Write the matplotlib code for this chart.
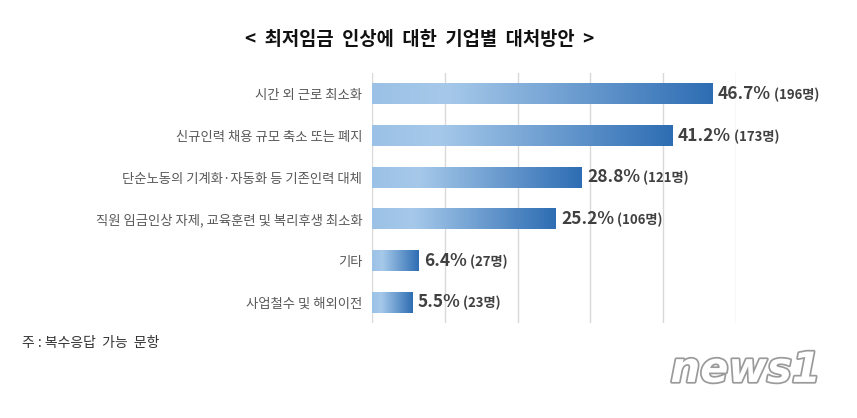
import matplotlib
matplotlib.use("Agg")
import matplotlib.pyplot as plt
import matplotlib.patheffects as pe
from matplotlib.colors import LinearSegmentedColormap
import numpy as np

plt.rcParams['font.family'] = ['Noto Sans CJK KR', 'DejaVu Sans']

categories = ["시간 외 근로 최소화",
              "신규인력 채용 규모 축소 또는 폐지",
              "단순노동의 기계화·자동화 등 기존인력 대체",
              "직원 임금인상 자제, 교육훈련 및 복리후생 최소화",
              "기타",
              "사업철수 및 해외이전"]
percents = [46.7, 41.2, 28.8, 25.2, 6.4, 5.5]
counts = [196, 173, 121, 106, 27, 23]
title = "<  최저임금  인상에  대한  기업별  대처방안  >"
note = "주 : 복수응답  가능  문항"

fig = plt.figure(figsize=(8.57, 4.18), dpi=100)
ax = fig.add_axes([0.434, 0.227, 0.425, 0.598])

cmap = LinearSegmentedColormap.from_list(
    "g", [(0.0, "#9bc1e6"), (0.22, "#a6c9ea"), (1.0, "#2e6db3")])
grad = np.linspace(0, 1, 256).reshape(1, -1)

n = len(categories)
h = 0.5
for i, (v, c) in enumerate(zip(percents, counts)):
    ax.imshow(grad, cmap=cmap, aspect='auto', extent=(0, v, i - h / 2, i + h / 2),
              zorder=2, interpolation='bilinear')
    t = ax.annotate(f"{v:.1f}%", xy=(v, i), xytext=(4, 0), textcoords='offset points',
                    ha='left', va='center', fontsize=12.5, fontweight='bold',
                    color='#404040', annotation_clip=False)
    fig.canvas.draw()
    ax.annotate(f" ({c}명)", xy=(1, 0.45), xycoords=t, ha='left', va='center',
                fontsize=9.5, fontweight='bold', color='#404040', annotation_clip=False)

ax.set_xlim(0, 50)
ax.set_ylim(n - 0.5, -0.5)
ax.set_xticks(np.arange(0, 51, 10))
ax.set_yticks(range(n))
ax.set_yticklabels(categories, fontsize=9.6, color='#595959')
ax.tick_params(axis='y', length=0, pad=7)
ax.tick_params(axis='x', length=0, labelbottom=False)
ax.grid(axis='x', color='#d9d9d9', linewidth=1, zorder=0)
for s in ax.spines.values():
    s.set_visible(False)

fig.text(0.49, 0.905, title, ha='center', va='center', fontsize=13.5,
         fontweight='bold', color='#111111')
fig.text(0.026, 0.18, note, ha='left', va='center', fontsize=10, color='#333333')

fig.text(0.87, 0.115, "news1", ha='center', va='center', fontsize=30,
         fontstyle='italic', fontweight='bold', color='white', family='DejaVu Sans',
         path_effects=[pe.withStroke(linewidth=2.5, foreground='#9a9a9a')])

fig.savefig("out.png", dpi=100, facecolor='white')
